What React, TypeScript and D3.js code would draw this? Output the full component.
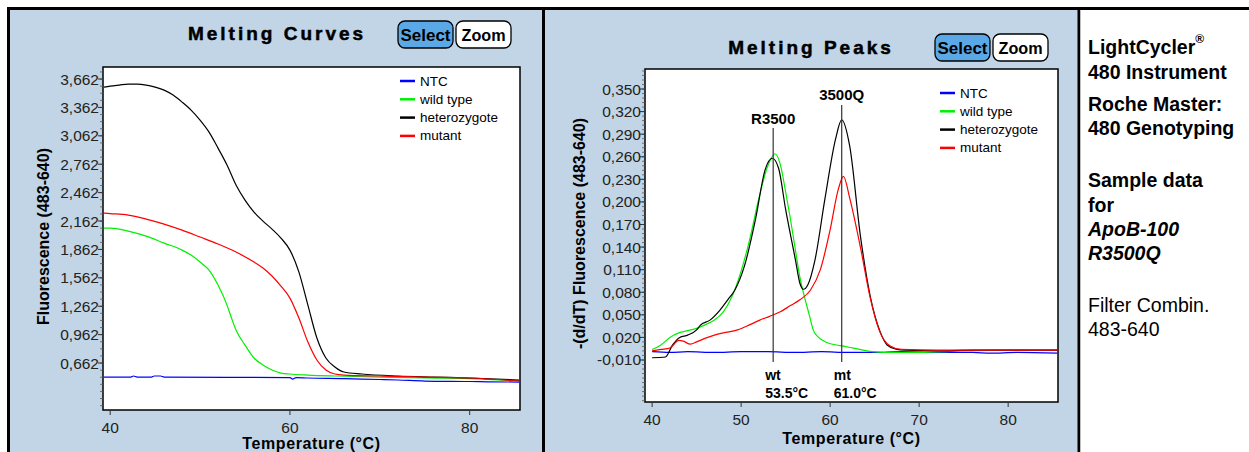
import React from "react";
import * as d3 from "d3";

type Pt = [number, number];

const FONT = "'Liberation Sans', Arial, sans-serif";
const BG = "#c2d5e6";

const seriesNames = ["NTC", "wild type", "heterozygote", "mutant"];
const seriesColors = ["#0000ff", "#00f000", "#000000", "#ff0000"];

// melting curves (fluorescence vs temperature)
const curveNTC: Pt[] = [
  [39.3, 0.514], [42.3, 0.514], [42.6, 0.525], [43, 0.514], [44.6, 0.514], [44.9, 0.525], [45.6, 0.525],
  [46, 0.514], [60, 0.509], [60.3, 0.493], [60.7, 0.509], [62, 0.504], [66, 0.498], [68, 0.493],
  [70, 0.488], [72, 0.483], [75, 0.472], [80, 0.467], [82, 0.464], [85.5, 0.461],
];
const curveWild: Pt[] = [
  [39.3, 2.088], [40, 2.088], [42, 2.056], [44, 2.003], [46, 1.929], [48, 1.855], [49, 1.802],
  [50, 1.729], [51, 1.644], [52, 1.486], [53, 1.274], [53.5, 1.137], [54, 1.01], [55, 0.852],
  [56, 0.715], [57, 0.641], [58, 0.588], [59, 0.556], [60, 0.546], [62, 0.535], [65, 0.525],
  [70, 0.514], [75, 0.504], [80, 0.498], [85.5, 0.472],
];
const curveHetero: Pt[] = [
  [39.3, 3.576], [40, 3.587], [41, 3.598], [42, 3.608], [43, 3.608], [44, 3.598], [45, 3.576],
  [46, 3.545], [47, 3.492], [48, 3.418], [49, 3.334], [50, 3.228], [51, 3.101], [52, 2.932],
  [53, 2.753], [54, 2.542], [55, 2.383], [56, 2.257], [57, 2.161], [58, 2.077], [59, 1.982],
  [60, 1.855], [61, 1.623], [62, 1.274], [63, 0.926], [64, 0.715], [65, 0.62], [66, 0.567],
  [68, 0.546], [72, 0.525], [76, 0.514], [80, 0.504], [85.5, 0.482],
];
const curveMutant: Pt[] = [
  [39.3, 2.246], [40, 2.241], [42, 2.225], [44, 2.183], [46, 2.13], [48, 2.066], [50, 1.993],
  [52, 1.919], [54, 1.834], [56, 1.729], [57, 1.665], [58, 1.581], [59, 1.475], [60, 1.348],
  [61, 1.137], [62, 0.884], [63, 0.694], [64, 0.588], [65, 0.546], [66, 0.535], [70, 0.525],
  [75, 0.514], [80, 0.504], [85.5, 0.472],
];

// melting peaks (-d/dT)
const peakNTC: Pt[] = [
  [40, 0.001], [42, 0.0], [44, 0.001], [47, 0.0], [50, 0.001], [53, 0.001], [56, 0.0],
  [59, 0.001], [62, 0.0], [65, 0.0], [68, 0.001], [72, 0.0], [76, 0.0], [78, -0.001],
  [81, 0.0], [85.5, -0.001],
];
const peakWild: Pt[] = [
  [40, 0.004], [41, 0.01], [42, 0.02], [43, 0.026], [44, 0.029], [45, 0.032], [46, 0.037],
  [47, 0.043], [48, 0.054], [49, 0.075], [50, 0.108], [51, 0.152], [52, 0.205], [53, 0.248],
  [53.8, 0.264], [54.5, 0.245], [54.9, 0.22], [55.5, 0.18], [56.1, 0.136], [56.6, 0.1],
  [57.2, 0.07], [57.7, 0.048], [58.1, 0.03], [58.7, 0.02], [59.7, 0.013], [61.2, 0.009],
  [62.5, 0.006], [64.8, 0.001], [66, 0.0], [70, 0.0], [75, 0.002], [80, 0.003], [85.5, 0.003],
];
const peakHetero: Pt[] = [
  [40, -0.007], [41.5, -0.006], [42.3, 0.01], [43.1, 0.02], [44, 0.023], [45, 0.03],
  [45.4, 0.036], [46.5, 0.043], [47.6, 0.056], [48.5, 0.07], [49.3, 0.083], [50.4, 0.116],
  [51.6, 0.176], [52.7, 0.243], [53.5, 0.258], [54.2, 0.245], [55, 0.19], [56.1, 0.123],
  [56.6, 0.092], [57, 0.084], [57.5, 0.09], [58.3, 0.123], [59.4, 0.203], [60.6, 0.283],
  [61.3, 0.309], [62.2, 0.274], [63.4, 0.155], [64.5, 0.075], [65.6, 0.028], [66.4, 0.01],
  [67.5, 0.004], [68.5, 0.003], [72, 0.002], [76, 0.003], [80, 0.003], [85.5, 0.003],
];
const peakMutant: Pt[] = [
  [40, 0.002], [41, 0.004], [42, 0.006], [43, 0.016], [43.5, 0.015], [44.3, 0.011], [45, 0.014],
  [46, 0.019], [47, 0.023], [48, 0.026], [49.6, 0.03], [51, 0.037], [52.1, 0.043], [53.2, 0.048],
  [54.4, 0.054], [55.5, 0.062], [56.6, 0.07], [57.8, 0.083], [58.9, 0.11], [60, 0.163],
  [60.9, 0.216], [61.5, 0.234], [62.2, 0.205], [63.4, 0.14], [64.5, 0.073], [65.6, 0.027],
  [66.7, 0.009], [68, 0.004], [72, 0.003], [76, 0.003], [80, 0.003], [85.5, 0.003],
];

const curveTicksX = [40, 60, 80];
const peakTicksX = [40, 50, 60, 70, 80];
const curveTicksY = [0.662, 0.962, 1.262, 1.562, 1.862, 2.162, 2.462, 2.762, 3.062, 3.362, 3.662];
const peakTicksY = [-0.01, 0.02, 0.05, 0.08, 0.11, 0.14, 0.17, 0.2, 0.23, 0.26, 0.29, 0.32, 0.35];

const peakMarkers = [
  { label: "R3500", temp: 53.6, geno: "wt", tm: "53.5°C" },
  { label: "3500Q", temp: 61.3, geno: "mt", tm: "61.0°C" },
];

const infoLines = [
  { text: "LightCycler", sup: "®", weight: "bold", style: "normal" },
  { text: "480 Instrument", weight: "bold", style: "normal" },
  { text: "Roche Master:", weight: "bold", style: "normal" },
  { text: "480 Genotyping", weight: "bold", style: "normal" },
  { text: "Sample data", weight: "bold", style: "normal" },
  { text: "for", weight: "bold", style: "normal" },
  { text: "ApoB-100", weight: "bold", style: "italic" },
  { text: "R3500Q", weight: "bold", style: "italic" },
  { text: "Filter Combin.", weight: "normal", style: "normal" },
  { text: "483-640", weight: "normal", style: "normal" },
];
const infoY = [47, 72, 104, 128, 180, 205, 229, 253, 305, 329];

const fmt = (d: number) => d3.format(".3f")(d).replace(".", ",").replace("\u2212", "-");

function Button({ x, y, label, active }: any) {
  const w = 55, h = 27;
  return (
    <g>
      <rect x={x} y={y} width={w} height={h} rx={7} fill={active ? "#5ba8e6" : "#fff"} stroke="#000" strokeWidth={1.3} />
      <text x={x + w / 2} y={y + h / 2 + 1} textAnchor="middle" dominantBaseline="central"
        fontWeight="bold" fontSize={16} textLength={label === "Select" ? 50 : 44}
        lengthAdjust="spacingAndGlyphs">{label}</text>
    </g>
  );
}

function Panel(props: any) {
  const { box, yDomain, xTicks, yTicks, minorStep, series, title, titleX, titleY, btnX, btnY,
    legX, legY, yTitle, yTitleX, xTitleY, clip, children } = props;
  const x = d3.scaleLinear().domain([39.2, 85.6]).range([box.l, box.r]);
  const y = d3.scaleLinear().domain(yDomain).range([box.b, box.t]);
  const line = d3.line<Pt>().x(d => x(d[0])).y(d => y(d[1])).curve(d3.curveMonotoneX);
  const minors = d3.range(yTicks[0] - minorStep * 20, yDomain[1], minorStep)
    .filter(v => v > yDomain[0] && v < yDomain[1]);
  return (
    <g>
      <text x={titleX} y={titleY} textAnchor="middle" dominantBaseline="central" fontWeight="bold"
        fontSize={19} letterSpacing={3} stroke="#000" strokeWidth={0.5}>{title}</text>
      <Button x={btnX} y={btnY} label="Select" active />
      <Button x={btnX + 58} y={btnY} label="Zoom" />
      <defs>
        <clipPath id={clip}>
          <rect x={box.l} y={box.t} width={box.r - box.l} height={box.b - box.t} />
        </clipPath>
      </defs>
      <rect x={box.l} y={box.t} width={box.r - box.l} height={box.b - box.t} fill="#fff" />
      <g clipPath={`url(#${clip})`}>
        {series.map((s: Pt[], i: number) => (
          <path key={i} d={line(s) || ""} fill="none" stroke={seriesColors[i]} strokeWidth={1.2} />
        ))}
      </g>
      {children && children(x, y)}
      <rect x={box.l} y={box.t} width={box.r - box.l} height={box.b - box.t} fill="none" stroke="#000" strokeWidth={1.5} />
      {/* y axis */}
      {minors.map((v, i) => (
        <line key={"m" + i} x1={box.l - 3} x2={box.l} y1={y(v)} y2={y(v)} stroke="#555" strokeWidth={0.8} />
      ))}
      {yTicks.map((v: number) => (
        <g key={v}>
          <line x1={box.l - 5} x2={box.l} y1={y(v)} y2={y(v)} stroke="#333" />
          <text x={box.l - 4} y={y(v)} textAnchor="end" dominantBaseline="central" fontSize={15.5} fill="#222">{fmt(v)}</text>
        </g>
      ))}
      <text transform={`translate(${yTitleX},${(box.t + box.b) / 2 - 2}) rotate(-90)`} textAnchor="middle"
        dominantBaseline="central" fontWeight="bold" fontSize={16}>{yTitle}</text>
      {/* x axis */}
      {xTicks.map((v: number) => (
        <g key={v}>
          <line x1={x(v)} x2={x(v)} y1={box.b} y2={box.b + 5} stroke="#333" />
          <text x={x(v)} y={box.b + 17} textAnchor="middle" dominantBaseline="central" fontSize={15.5} fill="#222">{v}</text>
        </g>
      ))}
      <text x={(box.l + box.r) / 2} y={xTitleY} textAnchor="middle" dominantBaseline="central"
        fontWeight="bold" fontSize={16} letterSpacing={0.6}>Temperature (°C)</text>
      {/* legend */}
      {seriesNames.map((n, i) => (
        <g key={n} transform={`translate(${legX},${legY + i * 18.3})`}>
          <line x1={0} x2={15} y1={0} y2={0} stroke={seriesColors[i]} strokeWidth={2.5} />
          <text x={20} y={0} dominantBaseline="central" fontSize={13.5}>{n}</text>
        </g>
      ))}
    </g>
  );
}

export default function App() {
  const W = 1249, H = 452;
  return (
    <svg width={W} height={H} style={{ position: "absolute", left: 0, top: 0, fontFamily: FONT }}>
      <rect x={0} y={0} width={W} height={H} fill="#fff" />
      <rect x={9} y={9} width={1071} height={H} fill={BG} />
      <line x1={7} x2={W} y1={8.5} y2={8.5} stroke="#000" strokeWidth={3} />
      <line x1={8.5} x2={8.5} y1={7} y2={H} stroke="#000" strokeWidth={3} />
      <line x1={543.5} x2={543.5} y1={7} y2={H} stroke="#000" strokeWidth={3} />
      <line x1={1079} x2={1079} y1={7} y2={H} stroke="#000" strokeWidth={3} />
      <rect x={1080.5} y={10} width={W - 1080.5} height={H} fill="#fff" />

      <Panel
        box={{ l: 103, r: 520, t: 67, b: 410 }}
        yDomain={[0.166, 3.789]}
        xTicks={curveTicksX}
        yTicks={curveTicksY}
        minorStep={0.075}
        series={[curveNTC, curveWild, curveHetero, curveMutant]}
        title="Melting Curves" titleX={277} titleY={33}
        btnX={398} btnY={21}
        legX={400} legY={81}
        yTitle="Fluorescence (483-640)" yTitleX={43}
        xTitleY={443}
        clip="clipL"
      />
      <Panel
        box={{ l: 645, r: 1058, t: 69, b: 402 }}
        yDomain={[-0.0658, 0.3766]}
        xTicks={peakTicksX}
        yTicks={peakTicksY}
        minorStep={0.006}
        series={[peakNTC, peakWild, peakHetero, peakMutant]}
        title="Melting Peaks" titleX={811} titleY={47}
        btnX={935} btnY={34}
        legX={940} legY={93}
        yTitle="-(d/dT) Fluorescence (483-640)" yTitleX={579}
        xTitleY={438}
        clip="clipR"
      >
        {(x: any, y: any) => peakMarkers.map((m, i) => {
          const px = x(m.temp);
          const top = i === 0 ? 128 : 105;
          const ly = i === 0 ? 118 : 94;
          return (
            <g key={m.label}>
              <line x1={px} x2={px} y1={top} y2={362} stroke="#333" strokeWidth={1.2} />
              <text x={px} y={ly} textAnchor="middle" dominantBaseline="central" fontWeight="bold" fontSize={15}>{m.label}</text>
              <text x={px - 8} y={375} dominantBaseline="central" fontWeight="bold" fontSize={14}>{m.geno}</text>
              <text x={px - 8} y={393} dominantBaseline="central" fontWeight="bold" fontSize={14}>{m.tm}</text>
            </g>
          );
        })}
      </Panel>

      {infoLines.map((l, i) => (
        <text key={i} x={1088} y={infoY[i]} dominantBaseline="central" fontSize={19.5}
          fontWeight={l.weight} fontStyle={l.style}>
          {l.text}
          {l.sup && <tspan fontSize={12} dy={-8}>{l.sup}</tspan>}
        </text>
      ))}
    </svg>
  );
}
